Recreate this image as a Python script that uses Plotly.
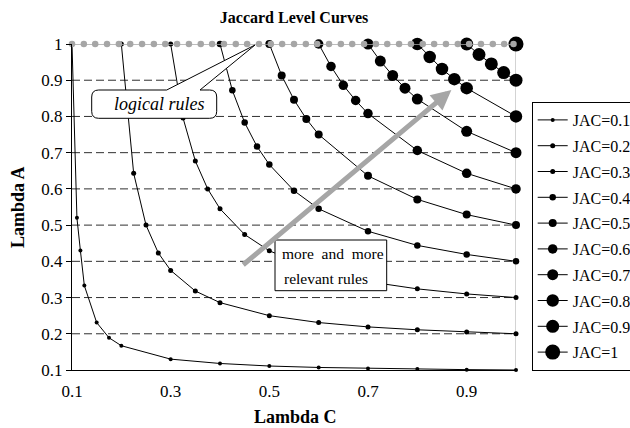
import plotly.graph_objects as go

# ---------------- data ----------------
jac_labels = ["JAC=0.1", "JAC=0.2", "JAC=0.3", "JAC=0.4", "JAC=0.5",
              "JAC=0.6", "JAC=0.7", "JAC=0.8", "JAC=0.9", "JAC=1"]

lc_01 = [0.1, 0.11, 0.117, 0.125, 0.15, 0.175, 0.2, 0.3, 0.4, 0.5, 0.6, 0.7, 0.8, 0.9, 1.0]
la_01 = [1.0, 0.52, 0.43, 0.333, 0.231, 0.189, 0.167, 0.13, 0.118, 0.111, 0.107, 0.104, 0.103, 0.101, 0.1]

lc_02 = [0.2, 0.225, 0.25, 0.275, 0.3, 0.35, 0.4, 0.5, 0.6, 0.7, 0.8, 0.9, 1.0]
la_02 = [1.0, 0.643, 0.5, 0.423, 0.375, 0.318, 0.286, 0.25, 0.231, 0.219, 0.211, 0.205, 0.2]

lc_03 = [0.3, 0.325, 0.35, 0.375, 0.4, 0.45, 0.5, 0.6, 0.7, 0.8, 0.9, 1.0]
la_03 = [1.0, 0.796, 0.677, 0.6, 0.545, 0.474, 0.429, 0.375, 0.344, 0.324, 0.31, 0.3]

lc_04 = [0.4, 0.425, 0.45, 0.475, 0.5, 0.55, 0.6, 0.7, 0.8, 0.9, 1.0]
la_04 = [1.0, 0.872, 0.783, 0.717, 0.667, 0.595, 0.545, 0.483, 0.444, 0.419, 0.4]

lc_05 = [0.5, 0.525, 0.55, 0.575, 0.6, 0.7, 0.8, 0.9, 1.0]
la_05 = [1.0, 0.913, 0.846, 0.793, 0.75, 0.636, 0.571, 0.529, 0.5]

lc_06 = [0.6, 0.625, 0.65, 0.675, 0.7, 0.8, 0.9, 1.0]
la_06 = [1.0, 0.938, 0.886, 0.844, 0.808, 0.706, 0.643, 0.6]

lc_07 = [0.7, 0.725, 0.75, 0.775, 0.8, 0.9, 1.0]
la_07 = [1.0, 0.953, 0.913, 0.878, 0.848, 0.759, 0.7]

lc_08 = [0.8, 0.825, 0.85, 0.875, 0.9, 1.0]
la_08 = [1.0, 0.964, 0.931, 0.903, 0.878, 0.8]

lc_09 = [0.9, 0.925, 0.95, 0.975, 1.0]
la_09 = [1.0, 0.971, 0.945, 0.921, 0.9]

lc_10 = [1.0]
la_10 = [1.0]

# logical rules (lambda A = 1)
logical_lc = [0.1, 0.124, 0.147, 0.171, 0.195, 0.218, 0.242, 0.266, 0.289, 0.313,
              0.337, 0.361, 0.384, 0.408, 0.432, 0.455, 0.479, 0.503, 0.526, 0.55,
              0.574, 0.597, 0.621, 0.645, 0.668, 0.692, 0.716, 0.739, 0.763, 0.787,
              0.811, 0.834, 0.858, 0.882, 0.905, 0.929, 0.953, 0.976, 0.995]
logical_la = [1.0] * len(logical_lc)

x_ticks = [0.1, 0.3, 0.5, 0.7, 0.9]
x_ticktext = ["0.1", "0.3", "0.5", "0.7", "0.9"]
y_ticks = [0.1, 0.2, 0.3, 0.4, 0.5, 0.6, 0.7, 0.8, 0.9, 1.0]
y_ticktext = ["0.1", "0.2", "0.3", "0.4", "0.5", "0.6", "0.7", "0.8", "0.9", "1"]
grid_levels = [0.2, 0.3, 0.4, 0.5, 0.6, 0.7, 0.8, 0.9]

curves_lc = [lc_01, lc_02, lc_03, lc_04, lc_05, lc_06, lc_07, lc_08, lc_09, lc_10]
curves_la = [la_01, la_02, la_03, la_04, la_05, la_06, la_07, la_08, la_09, la_10]

# ---------------- styles ----------------
marker_sizes = [4, 5, 5, 6.5, 8, 9.5, 11, 12.5, 13, 15]
FONT = "Liberation Serif, Times New Roman, serif"
W, H = 630, 428
L, R, T, B = 72, 114, 44, 58
PW, PH = W - L - R, H - T - B


def px(x):
    return (x - L) / PW


def py(y):
    return (H - B - y) / PH


fig = go.Figure()

for name, xs, ys, ms in zip(jac_labels, curves_lc, curves_la, marker_sizes):
    fig.add_trace(go.Scatter(
        x=xs, y=ys, name=name, mode="lines+markers",
        line=dict(color="black", width=1),
        marker=dict(color="black", size=ms),
        legendgroup=name, cliponaxis=False,
    ))

fig.add_trace(go.Scatter(
    x=logical_lc, y=logical_la, mode="lines+markers", showlegend=False,
    line=dict(color="#a6a6a6", width=1.5),
    marker=dict(color="#a6a6a6", size=6.5),
    cliponaxis=False, hoverinfo="skip",
))

shapes = []
for g in grid_levels:
    shapes.append(dict(type="line", xref="paper", yref="y", x0=0, x1=1, y0=g, y1=g,
                       line=dict(color="#303030", width=1, dash="8px,4px"), layer="below"))
shapes.append(dict(type="line", xref="x", yref="y", x0=1, x1=1, y0=0.1, y1=1,
                   line=dict(color="#a6a6a6", width=1), layer="below"))

# "logical rules" callout (rounded box with a pointer)
bl, br, bt, bb, r = 91.7, 216.7, 90, 118.3, 7
tail = [(166.7, bt), (255, 45), (200, bt)]
path = f"M{px(bl + r)},{py(bt)} "
for (tx, ty) in tail:
    path += f"L{px(tx)},{py(ty)} "
path += (f"L{px(br - r)},{py(bt)} Q{px(br)},{py(bt)} {px(br)},{py(bt + r)} "
         f"L{px(br)},{py(bb - r)} Q{px(br)},{py(bb)} {px(br - r)},{py(bb)} "
         f"L{px(bl + r)},{py(bb)} Q{px(bl)},{py(bb)} {px(bl)},{py(bb - r)} "
         f"L{px(bl)},{py(bt + r)} Q{px(bl)},{py(bt)} {px(bl + r)},{py(bt)} Z")
shapes.append(dict(type="path", xref="paper", yref="paper", path=path,
                   fillcolor="white", line=dict(color="black", width=1), layer="above"))
# "more and more relevant rules" box
shapes.append(dict(type="rect", xref="paper", yref="paper",
                   x0=px(275), x1=px(386.7), y0=py(290.7), y1=py(240),
                   fillcolor="white", line=dict(color="black", width=1), layer="above"))

annotations = [
    dict(xref="paper", yref="paper", x=px(159.5), y=py(104), text="<i>logical rules</i>",
         showarrow=False, font=dict(family=FONT, size=18, color="black"),
         xanchor="center", yanchor="middle"),
    dict(xref="paper", yref="paper", x=px(280), y=py(253), text="more  and  more",
         showarrow=False, font=dict(family=FONT, size=15.5, color="black"),
         xanchor="left", yanchor="middle"),
    dict(xref="paper", yref="paper", x=px(282), y=py(278), text="relevant rules",
         showarrow=False, font=dict(family=FONT, size=15.5, color="black"),
         xanchor="left", yanchor="middle"),
    dict(xref="x", yref="y", x=0.869, y=0.873, axref="x", ayref="y", ax=0.444, ay=0.387,
         text="", showarrow=True, arrowhead=2, arrowsize=0.8, arrowwidth=5,
         arrowcolor="#a6a6a6", standoff=0),
    dict(xref="paper", yref="paper", x=px(295), y=py(417), text="<b>Lambda C</b>",
         showarrow=False, font=dict(family=FONT, size=18, color="black"),
         xanchor="center", yanchor="middle"),
    dict(xref="paper", yref="paper", x=px(18), y=py(207), text="<b>Lambda A</b>",
         showarrow=False, textangle=-90, font=dict(family=FONT, size=18, color="black"),
         xanchor="center", yanchor="middle"),
]

fig.update_layout(
    width=W, height=H,
    margin=dict(l=L, r=R, t=T, b=B, autoexpand=False),
    paper_bgcolor="white", plot_bgcolor="white",
    font=dict(family=FONT, size=15, color="black"),
    title=dict(text="<b>Jaccard Level Curves</b>", x=0.5, xref="paper",
               y=1 - 17 / H, yref="container", yanchor="middle",
               font=dict(family=FONT, size=16, color="black")),
    xaxis=dict(range=[0.1, 1.0], tickvals=x_ticks, ticktext=x_ticktext,
               showgrid=False, zeroline=False, showline=True, linecolor="black",
               linewidth=1, ticks="", ticklabelstandoff=6,
               tickfont=dict(family=FONT, size=17, color="black")),
    yaxis=dict(range=[0.1, 1.0], tickvals=y_ticks, ticktext=y_ticktext,
               showgrid=False, zeroline=False, showline=True, linecolor="black",
               linewidth=1, ticks="outside", ticklen=5, tickcolor="black",
               tickfont=dict(family=FONT, size=17, color="black")),
    legend=dict(x=px(531.7), y=py(102), xanchor="left", yanchor="top",
                bordercolor="black", borderwidth=1, bgcolor="white",
                font=dict(family=FONT, size=16, color="black"),
                tracegroupgap=2, itemsizing="trace"),
    shapes=shapes, annotations=annotations, showlegend=True,
)

fig.write_html(
    "out.html",
    config={"displayModeBar": False},
    post_script="document.body.style.margin='0';document.body.style.overflow='hidden';",
)
